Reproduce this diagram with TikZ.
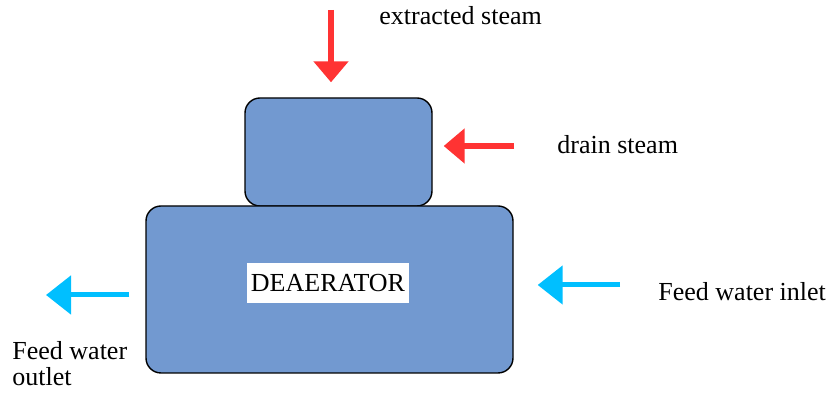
\documentclass[tikz,border=0pt]{standalone}
\usepackage{fontspec}
\setmainfont{Liberation Serif}
\usetikzlibrary{positioning}
\usetikzlibrary{arrows.meta}
\definecolor{figTanque}{RGB}{114,153,208}
\definecolor{figVapor}{RGB}{255,51,51}
\definecolor{figAgua}{RGB}{0,191,255}
\tikzset{
  tanque/.style={
    rectangle, rounded corners=7.5pt, draw=black, line width=0.7pt,
    fill=figTanque, inner sep=0pt
  },
  rotulo/.style={
    font=\fontsize{13}{13}\selectfont, inner sep=0pt, align=left
  },
  flechav/.style={-{Triangle[length=10.5pt,width=17pt]}, line width=3pt, draw=figVapor},
  flechaa/.style={-{Triangle[length=12.5pt,width=19pt]}, line width=2.5pt, draw=figAgua}
}

\begin{document}
\begin{tikzpicture}[x=0.5pt,y=-0.5pt]
  \useasboundingbox (0,0) rectangle (832,394);
  % domo y cuerpo del desaireador
  \node[tanque, minimum width=93.5pt, minimum height=54pt] (domo) at (338.5,152) {};
  \node[tanque, minimum width=183.5pt, minimum height=83.5pt] (cuerpo) at (329.5,289.5) {};
  \node[rotulo, fill=white, inner xsep=2pt, minimum height=20pt] (nombre) at (328,283) {DEAERATOR};

  % extremos libres de las flechas
  \coordinate (extraccion) at (331,10);
  \coordinate (drenaje) at (514,146);
  \coordinate (entrada) at (620,285);
  \coordinate (salida) at (46,295);

  % vapor
  \draw[flechav, shorten >=7.5pt] (extraccion) -- (extraccion |- domo.north);
  \draw[flechav, shorten >=5.5pt] (drenaje) -- (drenaje -| domo.east);
  % agua de alimentacion
  \draw[flechaa, shorten >=12pt] (entrada) -- (entrada -| cuerpo.east);
  \draw[flechaa, shorten <=8pt] (salida -| cuerpo.west) -- (salida);

  \node[rotulo, anchor=base west] (vext) at (379,25) {extracted steam};
  \node[rotulo, anchor=base west] (vdren) at (557,154) {drain steam};
  \node[rotulo, anchor=base west] (aent) at (658,301) {Feed water inlet};
  \node[rotulo, anchor=base west] (asal) at (12,386) {Feed water\\outlet};
\end{tikzpicture}
\end{document}
